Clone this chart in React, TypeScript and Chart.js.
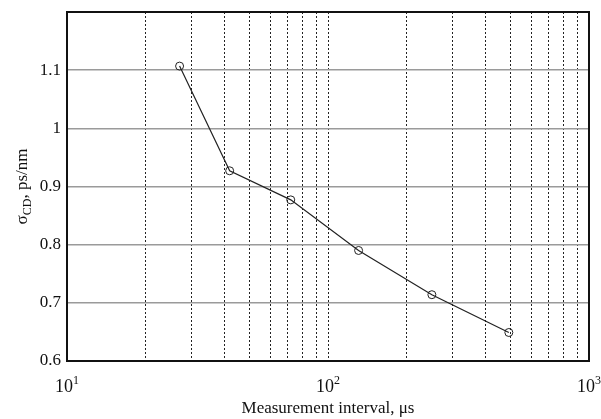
import React, { useEffect, useRef } from "react";
import { Chart, registerables } from "chart.js";

Chart.register(...registerables);

const intervals = [27, 42, 72, 131, 250, 493];
const sigmaCD = [1.107, 0.927, 0.877, 0.79, 0.714, 0.649];
const xMajorTicks = [10, 100, 1000];
const xTickBase = "10";
const xTickExponents = ["1", "2", "3"];
const yTickValues = [0.6, 0.7, 0.8, 0.9, 1, 1.1];

const FONT = "'Liberation Serif', 'Times New Roman', serif";

const framePlugin = {
  id: "frame",
  afterDraw(chart: any) {
    const { ctx, chartArea } = chart;
    ctx.save();
    ctx.strokeStyle = "#111";
    ctx.lineWidth = 2;
    ctx.strokeRect(chartArea.left, chartArea.top, chartArea.right - chartArea.left, chartArea.bottom - chartArea.top);

    // x tick labels with superscripts
    const xs = chart.scales.x;
    ctx.fillStyle = "#111";
    ctx.textBaseline = "alphabetic";
    xMajorTicks.forEach((v, i) => {
      const px = xs.getPixelForValue(v);
      ctx.font = `18px ${FONT}`;
      const w1 = ctx.measureText(xTickBase).width;
      ctx.font = `12px ${FONT}`;
      const w2 = ctx.measureText(xTickExponents[i]).width;
      const x0 = px - (w1 + w2) / 2;
      ctx.font = `18px ${FONT}`;
      ctx.fillText(xTickBase, x0, chartArea.bottom + 31);
      ctx.font = `12px ${FONT}`;
      ctx.fillText(xTickExponents[i], x0 + w1, chartArea.bottom + 23);
    });

    // y title with subscript
    const cy = (chartArea.top + chartArea.bottom) / 2;
    ctx.translate(21, cy);
    ctx.rotate(-Math.PI / 2);
    const big = `17px ${FONT}`;
    const small = `12px ${FONT}`;
    const parts: [string, string, number][] = [
      ["σ", big, 0],
      ["CD", small, 4],
      [", ps/nm", big, 0],
    ];
    let total = 0;
    for (const [t, f] of parts) {
      ctx.font = f;
      total += ctx.measureText(t).width;
    }
    let x = -total / 2;
    for (const [t, f, dy] of parts) {
      ctx.font = f;
      ctx.fillText(t, x, 6 + dy);
      x += ctx.measureText(t).width;
    }
    ctx.restore();
  },
};

export default function App() {
  const ref = useRef<HTMLCanvasElement>(null);
  useEffect(() => {
    if (!ref.current) return;
    const chart = new Chart(ref.current, {
      type: "line",
      data: {
        datasets: [
          {
            data: intervals.map((x, i) => ({ x, y: sigmaCD[i] })),
            borderColor: "#222",
            borderWidth: 1.2,
            pointRadius: 4,
            pointBorderWidth: 1,
            pointBackgroundColor: "rgba(0,0,0,0)",
            pointBorderColor: "#222",
            tension: 0,
            fill: false,
          },
        ],
      },
      plugins: [framePlugin],
      options: {
        animation: false,
        responsive: true,
        maintainAspectRatio: false,
        layout: { padding: { left: 0, top: 12, right: 12, bottom: 0 } },
        plugins: { legend: { display: false }, tooltip: { enabled: false } },
        scales: {
          x: {
            type: "logarithmic",
            min: 10,
            max: 1000,
            border: { display: false, dash: [2, 2] },
            grid: {
              color: "#222",
              lineWidth: 1,
              drawTicks: false,
            },
            ticks: {
              autoSkip: false,
              maxRotation: 0,
              color: "#111",
              font: { family: FONT, size: 17 },
              padding: 10,
              callback: () => "",
            },
            title: {
              display: true,
              text: "Measurement interval, μs",
              color: "#111",
              font: { family: FONT, size: 17 },
              padding: { top: 2, bottom: 0 },
            },
            afterFit: (s: any) => {
              s.height = 58;
              s.paddingLeft = 0;
              s.paddingRight = 0;
            },
            afterBuildTicks: (s: any) => {
              const t: any[] = [];
              for (const d of [10, 100]) for (let k = 1; k <= 9; k++) t.push({ value: d * k, major: k === 1 });
              t.push({ value: 1000, major: true });
              s.ticks = t;
            },
          } as any,
          y: {
            min: 0.6,
            max: 1.2,
            border: { display: false },
            grid: { color: "#9a9a9a", lineWidth: 1.5, drawTicks: false },
            ticks: {
              color: "#111",
              font: { family: FONT, size: 17 },
              padding: 6,
              callback: (v: any) => (Number(v) > 1.15 ? "" : String(Number(Number(v).toFixed(1)))),
            },
            afterBuildTicks: (s: any) => {
              s.ticks = [...yTickValues, 1.2].map((value) => ({ value }));
            },
            afterFit: (s: any) => {
              s.width = 67;
              s.paddingTop = 0;
              s.paddingBottom = 0;
            },
          },
        },
      } as any,
    });
    return () => chart.destroy();
  }, []);
  return (
    <div style={{ position: "fixed", left: 0, top: 0, width: 601, height: 419, background: "#fff" }}>
      <canvas ref={ref} />
    </div>
  );
}
